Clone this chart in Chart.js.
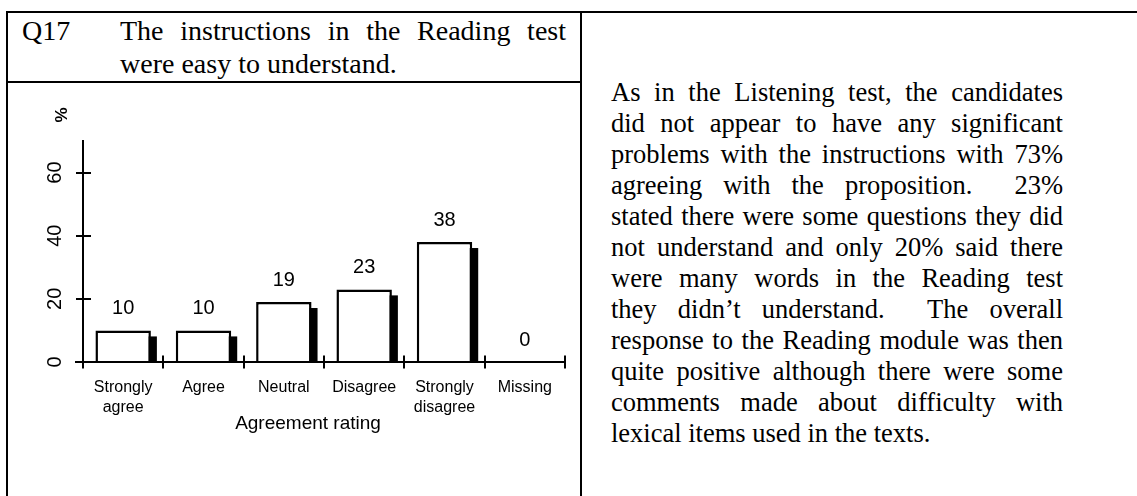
<!DOCTYPE html>
<html>
<head>
<meta charset="utf-8">
<title>Q17 Reading instructions</title>
<script src="https://cdn.jsdelivr.net/npm/chart.js@4.4.0/dist/chart.umd.min.js"></script>
<style>
  html, body { margin: 0; padding: 0; background: #fff; }
  body { width: 1137px; height: 496px; position: relative; overflow: hidden; }
  .rule { position: absolute; background: #000; }
  .serif {
    position: absolute;
    font-family: "Liberation Serif", "Times New Roman", serif;
    font-size: 26.5px;
    color: #000;
  }
  .head { font-size: 28px; line-height: 33px; top: 14px; }
  .just { text-align: justify; text-align-last: justify; }
  #chartBox { position: absolute; left: 8px; top: 83px; width: 572px; height: 413px; }
</style>
</head>
<body>
<!-- table rules -->
<div class="rule" style="left:6px;top:11px;width:1131px;height:2px"></div>
<div class="rule" style="left:6px;top:11px;width:2px;height:485px"></div>
<div class="rule" style="left:580px;top:11px;width:2px;height:485px"></div>
<div class="rule" style="left:6px;top:81px;width:576px;height:2px"></div>

<!-- question header -->
<div class="serif head" style="left:22px">Q17</div>
<div class="serif head" style="left:120px;width:446px">
  <div class="just">The instructions in the Reading test</div>
  <div>were easy to understand.</div>
</div>

<!-- commentary -->
<div class="serif" style="left:611px;top:77px;width:452px;line-height:31px">
  <div class="just">As in the Listening test, the candidates</div>
  <div class="just">did not appear to have any significant</div>
  <div class="just">problems with the instructions with 73%</div>
  <div class="just">agreeing with the proposition. &nbsp;23%</div>
  <div class="just">stated there were some questions they did</div>
  <div class="just">not understand and only 20% said there</div>
  <div class="just">were many words in the Reading test</div>
  <div class="just">they didn’t understand. &nbsp;The overall</div>
  <div class="just">response to the Reading module was then</div>
  <div class="just">quite positive although there were some</div>
  <div class="just">comments made about difficulty with</div>
  <div>lexical items used in the texts.</div>
</div>

<div id="chartBox"><canvas id="chartQ17" width="572" height="413"></canvas></div>

<script>
// ---------------------------------------------------------------------------
// Data
// ---------------------------------------------------------------------------
const categories = [["Strongly", "agree"], "Agree", "Neutral", "Disagree", ["Strongly", "disagree"], "Missing"];
const percentages = [10, 10, 19, 23, 38, 0];
const yTicks = [0, 20, 40, 60];
const yMax = 70;
const xTitle = "Agreement rating";
const yTitle = "%";

const SANS = "'Liberation Sans', Arial, Helvetica, sans-serif";
const SHADOW = 6;

// ---------------------------------------------------------------------------
// Plugins
// ---------------------------------------------------------------------------
// black drop shadow to the right of each bar
const barShadow = {
  id: "barShadow",
  beforeDatasetsDraw(chart) {
    const ctx = chart.ctx;
    ctx.save();
    ctx.fillStyle = "#000";
    chart.getDatasetMeta(0).data.forEach((bar) => {
      const { x, y, base, width } = bar.getProps(["x", "y", "base", "width"], true);
      const h = base - y - SHADOW;
      if (h > 0) ctx.fillRect(x - width / 2 + SHADOW, y + SHADOW, width, h);
    });
    ctx.restore();
  },
};

// value printed above each bar
const barValues = {
  id: "barValues",
  afterDatasetsDraw(chart) {
    const ctx = chart.ctx;
    ctx.save();
    ctx.fillStyle = "#000";
    ctx.font = `20px ${SANS}`;
    ctx.textAlign = "center";
    ctx.textBaseline = "middle";
    chart.getDatasetMeta(0).data.forEach((bar, i) => {
      ctx.fillText(String(percentages[i]), bar.x, bar.y - 22);
    });
    ctx.restore();
  },
};

// x axis line, crossing tick marks and the two axis titles
const axisMarks = {
  id: "axisMarks",
  afterDraw(chart) {
    const { ctx, chartArea } = chart;
    const xs = chart.scales.x;
    const ys = chart.scales.y;
    const n = categories.length;
    const step = xs.width / n;
    ctx.save();
    ctx.strokeStyle = "#000";
    ctx.lineWidth = 2;
    ctx.beginPath();
    ctx.moveTo(chartArea.left - 8, chartArea.bottom);
    ctx.lineTo(chartArea.right, chartArea.bottom);
    for (let i = 0; i <= n; i++) {
      const px = Math.round(xs.left + i * step);
      ctx.moveTo(px, chartArea.bottom - 6.5);
      ctx.lineTo(px, chartArea.bottom + 6.5);
    }
    ys.ticks.forEach((t) => {
      const py = Math.round(ys.getPixelForValue(t.value));
      ctx.moveTo(chartArea.left - 7, py);
      ctx.lineTo(chartArea.left + 8, py);
    });
    ctx.stroke();

    ctx.fillStyle = "#000";
    ctx.textAlign = "center";
    ctx.textBaseline = "middle";
    ctx.font = `19px ${SANS}`;
    ctx.fillText(xTitle, (chartArea.left + chartArea.right) / 2 - 16, chartArea.bottom + 62);

    ctx.translate(chartArea.left - 21, chartArea.top - 26);
    ctx.rotate(-Math.PI / 2);
    ctx.font = `bold 17px ${SANS}`;
    ctx.fillText(yTitle, 0, 0);
    ctx.restore();
  },
};

// ---------------------------------------------------------------------------
// Chart
// ---------------------------------------------------------------------------
Chart.defaults.font.family = SANS;
Chart.defaults.color = "#000";

new Chart(document.getElementById("chartQ17"), {
  type: "bar",
  data: {
    labels: categories,
    datasets: [
      {
        data: percentages,
        backgroundColor: "#fff",
        borderColor: "#000",
        borderWidth: 2.5,
        barPercentage: 0.69,
        categoryPercentage: 1,
      },
    ],
  },
  options: {
    responsive: false,
    animation: false,
    devicePixelRatio: 1,
    layout: { padding: { left: 0, top: 58, right: 15, bottom: 0 } },
    plugins: { legend: { display: false }, tooltip: { enabled: false } },
    scales: {
      x: {
        grid: { display: false, drawTicks: false },
        border: { display: false },
        ticks: { font: { size: 16, lineHeight: 1.25 }, padding: 16, maxRotation: 0, autoSkip: false },
        afterFit: (s) => { s.height = 134; },
      },
      y: {
        min: 0,
        max: yMax,
        grid: { display: false, drawTicks: false },
        border: { display: true, color: "#000", width: 2 },
        ticks: { font: { size: 20 }, padding: 16, minRotation: 90, crossAlign: "center", includeBounds: false },
        afterBuildTicks: (s) => { s.ticks = yTicks.map((v) => ({ value: v })); },
        afterFit: (s) => { s.width = 75; },
      },
    },
  },
  plugins: [barShadow, barValues, axisMarks],
});
</script>
</body>
</html>
